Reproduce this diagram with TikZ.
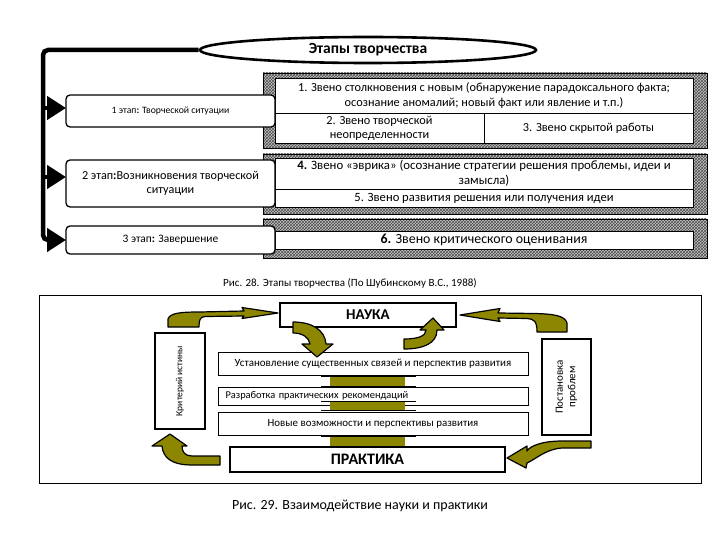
\documentclass[tikz,border=0pt]{standalone}
\usepackage{fontspec}
\setmainfont{Carlito}
\usetikzlibrary{shapes.geometric,arrows.meta,patterns}
\newcommand{\fs}[1]{\fontsize{#1}{\fpeval{#1*1.15}}\selectfont}
\tikzset{
  stagebox/.style={draw, line width=1.3pt, rounded corners=4pt, fill=white, inner sep=0pt, outer sep=0pt, align=center},
  cell/.style={draw, line width=0.8pt, fill=white, inner sep=0pt, outer sep=0pt, align=center},
  hatchbox/.style={draw=black, line width=0.6pt, preaction={fill=gray!45}, pattern=crosshatch, pattern color=black!70},
  bigline/.style={line width=4.5pt},
  bigtip/.style={-{Triangle[length=19pt,width=23pt]}},
  heavybox/.style={draw, line width=2.8pt, fill=white, inner sep=0pt, outer sep=0pt, align=center},
  thinbox/.style={draw, line width=0.9pt, fill=white, inner sep=0pt, outer sep=0pt, align=center},
  olivearrow/.style={fill=olive, draw=black, line width=1.2pt, line join=round},
  olivebar/.style={fill=olive},
  barline/.style={line width=0.9pt},
}
\begin{document}
\begin{tikzpicture}[x=1pt,y=-1pt]
\useasboundingbox (0,0) rectangle (720,540);
\fill[white] (0,0) rectangle (720,540);

% ---------- top diagram ----------
\draw[hatchbox] (263,73) rectangle (707,148);
\draw[hatchbox] (263,154) rectangle (707,214);
\draw[hatchbox] (263,219) rectangle (707,258);

\node[cell, minimum width=418pt, minimum height=35pt, font=\fs{12.3}] (r1) at (484,95.5)
  {1. Звено столкновения с новым (обнаружение парадоксального факта;\\ осознание аномалий; новый факт или явление и т.п.)};
\node[cell, minimum width=209pt, minimum height=30pt, font=\fs{12.3}] (r2) at (379.5,128)
  {2. Звено творческой\\ неопределенности};
\node[cell, minimum width=209pt, minimum height=30pt, font=\fs{12.3}] (r3) at (588.5,128)
  {3. Звено скрытой работы};
\node[cell, minimum width=418pt, minimum height=31pt, font=\fs{12.8}, anchor=north] (r4) at (484,158)
  {\textbf{4.} Звено «эврика» (осознание стратегии решения проблемы, идеи и\\ замысла)};
\node[cell, minimum width=418pt, minimum height=18pt, font=\fs{12.6}] (r5) at (484,198)
  {5. Звено развития решения или получения идеи};
\node[cell, minimum width=418pt, minimum height=18pt, font=\fs{13.9}] (r6) at (484,240)
  {\textbf{6.} Звено критического оценивания};

\node[stagebox, minimum width=209pt, minimum height=32pt, font=\fs{9.7}] (S1) at (170.5,111)
  {1 этап\textbf{:} Творческой ситуации};
\node[stagebox, minimum width=209pt, minimum height=47pt, font=\fs{12.2}] (S2) at (170.5,183.5)
  {2 этап\textbf{:}Возникновения творческой\\ ситуации};
\node[stagebox, minimum width=209pt, minimum height=28pt, font=\fs{11.4}] (S3) at (170.5,240)
  {3 этап\textbf{:} Завершение};

\node[ellipse, draw, line width=2.6pt, fill=white, minimum width=336pt, minimum height=26pt, inner sep=0pt, font=\bfseries\fs{15.5}] (E) at (368,50)
  {Этапы творчества};

\coordinate (c0) at (43,50);
\coordinate (j1) at (43,108);
\coordinate (j2) at (43,177);
\coordinate (c3) at (43,240);
\draw[bigline, bigtip, rounded corners=5pt] (E.west) -- (c0) -- (c3) -- (c3 -| S3.west);
\draw[bigline, bigtip] (j1) -- (j1 -| S1.west);
\draw[bigline, bigtip] (j2) -- (j2 -| S2.west);

\node[font=\fs{11}] (cap1) at (350,283) {Рис. 28. Этапы творчества (По Шубинскому В.С., 1988)};

% ---------- bottom diagram ----------
\draw[line width=0.8pt] (39,295) rectangle (701,483);

\node[heavybox, minimum width=176pt, minimum height=24pt, font=\bfseries\fs{15}] (N) at (368,315) {НАУКА};
\node[heavybox, minimum width=275pt, minimum height=25pt, font=\bfseries\fs{16}] (P) at (367.5,459.5) {ПРАКТИКА};
\node[thinbox, minimum width=310pt, minimum height=23pt, font=\fs{11}] (A) at (373,363.5)
  {Установление существенных связей и перспектив развития};
\node[thinbox, minimum width=310pt, minimum height=18pt, font=\fs{10.4}, align=left, text width=303pt, inner xsep=0pt] (B) at (373,396)
  {\hspace*{4pt}Разработка практических рекомендаций};
\node[thinbox, minimum width=310pt, minimum height=23pt, font=\fs{10.9}] (C) at (373,423.5)
  {Новые возможности и перспективы развития};
\node[heavybox, line width=2.4pt, minimum width=50pt, minimum height=96pt] (K) at (180,381) {};
\node[rotate=90, font=\fs{9.5}] (Kt) at (K.center) {Критерий истины};
\node[heavybox, line width=2.4pt, minimum width=49pt, minimum height=96pt] (Q) at (566.5,387) {};
\node[rotate=90, font=\fs{11}, align=center] (Qt) at (Q.center) {Постановка\\ проблем};

% olive column between boxes
\foreach \ya/\yb in {376/386, 401/410, 436/446}{
  \fill[olivebar] (330,\ya) rectangle (405,\yb);
  \draw[barline] (321,\ya) -- (416,\ya);
  \draw[barline] (321,\yb) -- (416,\yb);
}

% curved olive arrows
% Kriterij -> NAUKA
\draw[olivearrow] (168,327) -- (168,319) .. controls (170,313) and (180,312) .. (200,312)
  -- (244,311) -- (242,307.5) -- (278,313) -- (242,318.5) -- (244,316) -- (205,316.5)
  .. controls (200,317) and (199,320) .. (199,327) -- cycle;
% Postanovka -> NAUKA
\draw[olivearrow] (567,332) -- (567,323) .. controls (565,316) and (555,314) .. (535,313.5)
  -- (498,313) -- (500,308.5) -- (460,315) -- (500,321.5) -- (498,318) -- (527,318.5)
  .. controls (534,319) and (537,321) .. (537,332) -- cycle;
% NAUKA -> A
\draw[olivearrow] (293,322) .. controls (312,322) and (325,330) .. (326,344)
  -- (333,344) -- (317,357) -- (302,344) -- (310,344)
  .. controls (309,337) and (302,333) .. (293,333) -- cycle;
% A -> NAUKA
\draw[olivearrow] (404,349) .. controls (424,349) and (437,343) .. (437,330)
  -- (444,330) -- (433,318) -- (420,330) -- (426,330)
  .. controls (426,336) and (418,339) .. (404,339) -- cycle;
% Postanovka -> PRAKTIKA
\draw[olivearrow] (591,441) -- (562,441) .. controls (542,441) and (530,446) .. (527,451)
  -- (527,446) -- (507,458) -- (526,468) -- (527,463)
  .. controls (536,459) and (546,449) .. (562,448) -- (591,448) -- cycle;
% PRAKTIKA -> Kriterij
\draw[olivearrow] (220,456) -- (192,456) .. controls (185,456) and (182,452) .. (182,446)
  -- (187,446) -- (170,434) -- (152,446) -- (162,446)
  .. controls (163,458) and (172,465) .. (192,465) -- (220,465) -- cycle;

\node[font=\fs{14}] (cap2) at (360,506) {Рис. 29. Взаимодействие науки и практики};
\end{tikzpicture}
\end{document}
